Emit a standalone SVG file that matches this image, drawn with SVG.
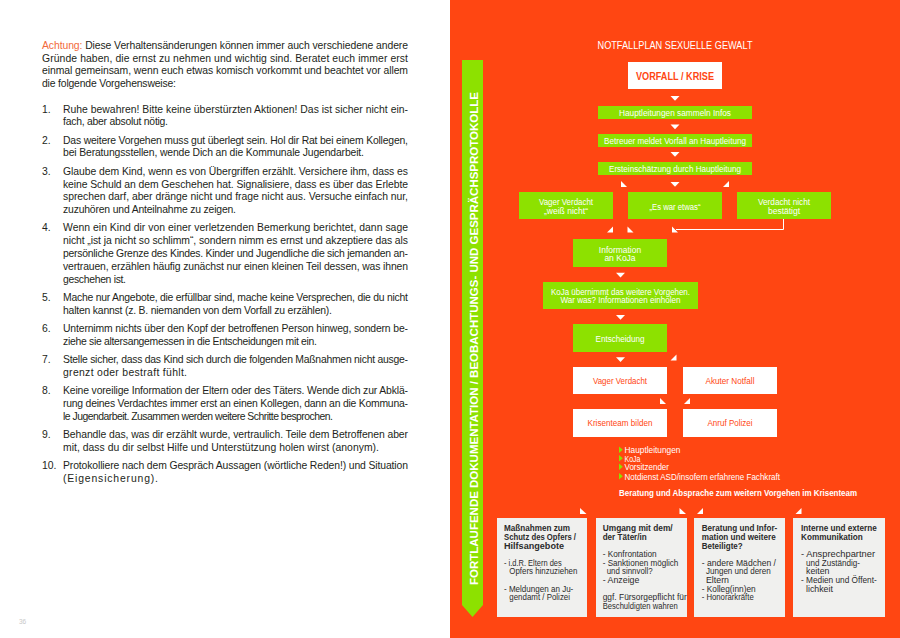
<svg xmlns="http://www.w3.org/2000/svg" width="900" height="638" viewBox="0 0 900 638">
<defs>
<style>
text{font-family:"Liberation Sans",Arial,sans-serif}
.body{font-size:10.4px;fill:#231f20}
.acc{fill:#f26a3c}
.lbl{font-size:8.5px;fill:#fff;text-anchor:middle}
.lblo{font-size:8.5px;fill:#ff4612;text-anchor:middle}
.g{fill:#8de100}
.w{fill:#fff}
.tri{fill:#fff}
.box{fill:#f0f0ee}
.bt{font-size:8.8px;font-weight:bold;fill:#2b2b2b}
.bb{font-size:8.8px;fill:#2b2b2b}
.bl{font-size:8.6px;fill:#fff}
</style>
</defs>
<rect x="0" y="0" width="900" height="638" fill="#fff"/>
<g id="left-text" class="body">
<text x="42" y="49" textLength="366"><tspan class="acc">Achtung:</tspan> Diese Verhaltensänderungen können immer auch verschiedene andere</text>
<text x="42" y="61.6" textLength="366">Gründe haben, die ernst zu nehmen und wichtig sind. Beratet euch immer erst</text>
<text x="42" y="74.2" textLength="366">einmal gemeinsam, wenn euch etwas komisch vorkommt und beachtet vor allem</text>
<text x="42" y="86.8" textLength="134">die folgende Vorgehensweise:</text>
<text x="42" y="112.5">1.</text>
<text x="63" y="112.5" textLength="345">Ruhe bewahren! Bitte keine überstürzten Aktionen! Das ist sicher nicht ein-</text>
<text x="63" y="125.3" textLength="105">fach, aber absolut nötig.</text>
<text x="42" y="143.6">2.</text>
<text x="63" y="143.6" textLength="345">Das weitere Vorgehen muss gut überlegt sein. Hol dir Rat bei einem Kollegen,</text>
<text x="63" y="156.4" textLength="301">bei Beratungsstellen, wende Dich an die Kommunale Jugendarbeit.</text>
<text x="42" y="174.7">3.</text>
<text x="63" y="174.7" textLength="345">Glaube dem Kind, wenn es von Übergriffen erzählt. Versichere ihm, dass es</text>
<text x="63" y="187.5" textLength="345">keine Schuld an dem Geschehen hat. Signalisiere, dass es über das Erlebte</text>
<text x="63" y="200.3" textLength="345">sprechen darf, aber dränge nicht und frage nicht aus. Versuche einfach nur,</text>
<text x="63" y="213.1" textLength="173">zuzuhören und Anteilnahme zu zeigen.</text>
<text x="42" y="231.4">4.</text>
<text x="63" y="231.4" textLength="345">Wenn ein Kind dir von einer verletzenden Bemerkung berichtet, dann sage</text>
<text x="63" y="244.2" textLength="345">nicht „ist ja nicht so schlimm“, sondern nimm es ernst und akzeptiere das als</text>
<text x="63" y="257" textLength="345">persönliche Grenze des Kindes. Kinder und Jugendliche die sich jemanden an-</text>
<text x="63" y="269.8" textLength="345">vertrauen, erzählen häufig zunächst nur einen kleinen Teil dessen, was ihnen</text>
<text x="63" y="282.6" textLength="63">geschehen ist.</text>
<text x="42" y="300.9">5.</text>
<text x="63" y="300.9" textLength="345">Mache nur Angebote, die erfüllbar sind, mache keine Versprechen, die du nicht</text>
<text x="63" y="313.7" textLength="269">halten kannst (z. B.  niemanden von dem Vorfall zu erzählen).</text>
<text x="42" y="332">6.</text>
<text x="63" y="332" textLength="345">Unternimm nichts über den Kopf der betroffenen Person hinweg, sondern be-</text>
<text x="63" y="344.8" textLength="254">ziehe sie altersangemessen in die Entscheidungen mit ein.</text>
<text x="42" y="363.1">7.</text>
<text x="63" y="363.1" textLength="345">Stelle sicher, dass das Kind sich durch die folgenden Maßnahmen nicht ausge-</text>
<text x="63" y="375.9" textLength="124">grenzt oder bestraft fühlt.</text>
<text x="42" y="394.2">8.</text>
<text x="63" y="394.2" textLength="345">Keine voreilige Information der Eltern oder des Täters. Wende dich zur Abklä-</text>
<text x="63" y="407" textLength="345">rung deines Verdachtes immer erst an einen Kollegen, dann an die Kommuna-</text>
<text x="63" y="419.8" textLength="270">le Jugendarbeit. Zusammen werden weitere Schritte besprochen.</text>
<text x="42" y="438.1">9.</text>
<text x="63" y="438.1" textLength="345">Behandle das, was dir erzählt wurde, vertraulich. Teile dem Betroffenen aber</text>
<text x="63" y="450.9" textLength="316">mit, dass du dir selbst Hilfe und Unterstützung holen wirst (anonym).</text>
<text x="42" y="469.2">10.</text>
<text x="63" y="469.2" textLength="345">Protokolliere nach dem Gespräch Aussagen (wörtliche Reden!) und Situation</text>
<text x="63" y="482" textLength="95">(Eigensicherung).</text>
</g>
<text x="19" y="624" style="font-size:6.5px;fill:#c8c8c8">36</text>

<rect x="450" y="0" width="450" height="638" fill="#ff4612"/>
<text x="675" y="48.5" text-anchor="middle" textLength="155" lengthAdjust="spacingAndGlyphs" style="font-size:10.2px;fill:#fff">NOTFALLPLAN SEXUELLE GEWALT</text>

<g id="side-band">
<polygon class="g" points="462,60 483,60 483,605 472.5,617 462,605"/>
<text transform="translate(477.8,338.5) rotate(-90)" text-anchor="middle" textLength="493" lengthAdjust="spacingAndGlyphs" style="font-size:11.5px;font-weight:bold;fill:#fff">FORTLAUFENDE DOKUMENTATION / BEOBACHTUNGS- UND GESPRÄCHSPROTOKOLLE</text>
</g>

<g id="connectors">
<polygon class="tri" points="670.5,96 679.5,96 675,100.7"/>
<polygon class="tri" points="670.5,124.5 679.5,124.5 675,129.2"/>
<polygon class="tri" points="670.5,152 679.5,152 675,156.7"/>
<polygon class="tri" points="670.5,182 679.5,182 675,186.7"/>
<polygon class="tri" points="621,181 621,187 627,187"/>
<polygon class="tri" points="729,181 729,187 723,187"/>
<polygon class="tri" points="613,226.5 613,232.5 607,232.5"/>
<polygon class="tri" points="627.5,226.5 627.5,232.5 633.5,232.5"/>
<polygon class="tri" points="672,226.5 672,232.5 678,232.5"/>
<polyline points="676,229.5 783.5,229.5 783.5,219" fill="none" stroke="#fff" stroke-width="1"/>
<polygon class="tri" points="616,272.7 625,272.7 620.5,277.4"/>
<polygon class="tri" points="616,315 625,315 620.5,319.7"/>
<polygon class="tri" points="616,357.3 625,357.3 620.5,362"/>
<polygon class="tri" points="676.5,354.5 676.5,360.5 670.5,360.5"/>
<polygon class="tri" points="660,398 660,404 666,404"/>
<polygon class="tri" points="690,398 690,404 684,404"/>
<polygon class="tri" points="580,508 580,514 586.5,514"/>
<polygon class="tri" points="679.5,508 679.5,514 686,514"/>
<polygon class="tri" points="703,508 703,514 697,514"/>
<polygon class="tri" points="801.5,508 801.5,514 795.5,514"/>
</g>

<g id="n-vorfall">
<rect class="w" x="628" y="62" width="94" height="27"/>
<text x="675" y="79.5" text-anchor="middle" textLength="78" lengthAdjust="spacingAndGlyphs" style="font-size:11px;font-weight:bold;fill:#ff4612">VORFALL / KRISE</text>
</g>
<g id="n-sammeln">
<rect class="g" x="598" y="106" width="154" height="13"/>
<text class="lbl" x="675" y="115.5" textLength="112" lengthAdjust="spacingAndGlyphs">Hauptleitungen sammeln Infos</text>
</g>
<g id="n-meldet">
<rect class="g" x="598" y="134" width="154" height="13"/>
<text class="lbl" x="675" y="143.5" textLength="142" lengthAdjust="spacingAndGlyphs">Betreuer meldet Vorfall an Hauptleitung</text>
</g>
<g id="n-ersteinschaetzung">
<rect class="g" x="598" y="162" width="154" height="13"/>
<text class="lbl" x="675" y="171.5" textLength="132" lengthAdjust="spacingAndGlyphs">Ersteinschätzung durch Hauptleitung</text>
</g>
<g id="n-vager1">
<rect class="g" x="519" y="192" width="94" height="27"/>
<text class="lbl" x="566" y="205.3" textLength="54" lengthAdjust="spacingAndGlyphs">Vager Verdacht</text>
<text class="lbl" x="566" y="213.6" textLength="44" lengthAdjust="spacingAndGlyphs">„weiß nicht“</text>
</g>
<g id="n-eswaretwas">
<rect class="g" x="628" y="192" width="94" height="27"/>
<text class="lbl" x="675" y="209.5" textLength="51" lengthAdjust="spacingAndGlyphs">„Es war etwas“</text>
</g>
<g id="n-nichtbestaetigt">
<rect class="g" x="737" y="192" width="94" height="27"/>
<text class="lbl" x="784" y="205.3" textLength="52" lengthAdjust="spacingAndGlyphs">Verdacht nicht</text>
<text class="lbl" x="784" y="213.6">bestätigt</text>
</g>
<g id="n-information">
<rect class="g" x="573" y="239" width="94" height="28"/>
<text class="lbl" x="620" y="252.8" textLength="42.3" lengthAdjust="spacingAndGlyphs">Information</text>
<text class="lbl" x="620" y="261.1">an KoJa</text>
</g>
<g id="n-koja">
<rect class="g" x="543" y="282" width="155" height="27"/>
<text class="lbl" x="620.5" y="294.5" textLength="139" lengthAdjust="spacingAndGlyphs">KoJa übernimmt das weitere Vorgehen.</text>
<text class="lbl" x="620.5" y="303.3" textLength="120" lengthAdjust="spacingAndGlyphs">War was? Informationen einholen</text>
</g>
<g id="n-entscheidung">
<rect class="g" x="573" y="324" width="94" height="28"/>
<text class="lbl" x="620" y="341.8" textLength="49" lengthAdjust="spacingAndGlyphs">Entscheidung</text>
</g>
<g id="n-vager2">
<rect class="w" x="573" y="367" width="94" height="27"/>
<text class="lblo" x="620" y="384" textLength="54" lengthAdjust="spacingAndGlyphs">Vager Verdacht</text>
</g>
<g id="n-akut">
<rect class="w" x="683" y="367" width="94" height="27"/>
<text class="lblo" x="730" y="384" textLength="49" lengthAdjust="spacingAndGlyphs">Akuter Notfall</text>
</g>
<g id="n-krisenteam">
<rect class="w" x="573" y="409" width="94" height="28"/>
<text class="lblo" x="620" y="426.3" textLength="65" lengthAdjust="spacingAndGlyphs">Krisenteam bilden</text>
</g>
<g id="n-polizei">
<rect class="w" x="683" y="409" width="94" height="28"/>
<text class="lblo" x="730" y="426.3" textLength="45" lengthAdjust="spacingAndGlyphs">Anruf Polizei</text>
</g>
<g id="n-members">
<polygon class="g" points="619,446.5 619,453 622.8,449.8"/>
<polygon class="g" points="619,455 619,461.5 622.8,458.3"/>
<polygon class="g" points="619,463.5 619,470 622.8,466.8"/>
<polygon class="g" points="619,473 619,479.5 622.8,476.3"/>
<text class="bl" x="624.5" y="453" textLength="56" lengthAdjust="spacingAndGlyphs">Hauptleitungen</text>
<text class="bl" x="624.5" y="461.5" textLength="16" lengthAdjust="spacingAndGlyphs">KoJa</text>
<text class="bl" x="624.5" y="470" textLength="44.5" lengthAdjust="spacingAndGlyphs">Vorsitzender</text>
<text class="bl" x="624.5" y="479.5" textLength="155.5" lengthAdjust="spacingAndGlyphs">Notdienst ASD/insofern erfahrene Fachkraft</text>
<text class="bl" x="619" y="496" textLength="238" lengthAdjust="spacingAndGlyphs" style="font-weight:bold">Beratung und Absprache zum weitern Vorgehen im Krisenteam</text>
</g>
<g id="n-schutz">
<rect class="box" x="497" y="518" width="90" height="99"/>
<text class="bt" x="504" y="531.3" textLength="66" lengthAdjust="spacingAndGlyphs">Maßnahmen zum</text>
<text class="bt" x="504" y="540.3" textLength="72" lengthAdjust="spacingAndGlyphs">Schutz des Opfers /</text>
<text class="bt" x="504" y="549" textLength="60" lengthAdjust="spacingAndGlyphs">Hilfsangebote</text>
<text class="bb" x="504" y="565.7" textLength="57.7" lengthAdjust="spacingAndGlyphs">- i.d.R. Eltern des</text>
<text class="bb" x="509.3" y="574" textLength="68" lengthAdjust="spacingAndGlyphs">Opfers hinzuziehen</text>
<text class="bb" x="504" y="592" textLength="69.3" lengthAdjust="spacingAndGlyphs">- Meldungen an Ju-</text>
<text class="bb" x="509.3" y="600.3" textLength="60.7" lengthAdjust="spacingAndGlyphs">gendamt / Polizei</text>
</g>
<g id="n-taeter">
<rect class="box" x="596" y="518" width="91" height="99"/>
<text class="bt" x="602.7" y="531.3" textLength="70" lengthAdjust="spacingAndGlyphs">Umgang mit dem/</text>
<text class="bt" x="602.7" y="540.3" textLength="44" lengthAdjust="spacingAndGlyphs">der Täter/in</text>
<text class="bb" x="602.7" y="557" textLength="54" lengthAdjust="spacingAndGlyphs">- Konfrontation</text>
<text class="bb" x="602.7" y="565.7" textLength="75.6" lengthAdjust="spacingAndGlyphs">- Sanktionen möglich</text>
<text class="bb" x="606.7" y="574" textLength="46" lengthAdjust="spacingAndGlyphs">und sinnvoll?</text>
<text class="bb" x="602.7" y="583">- Anzeige</text>
<text class="bb" x="602.7" y="600.3" textLength="84" lengthAdjust="spacingAndGlyphs">ggf. Fürsorgepflicht für</text>
<text class="bb" x="602.7" y="609" textLength="75" lengthAdjust="spacingAndGlyphs">Beschuldigten wahren</text>
</g>
<g id="n-beteiligte">
<rect class="box" x="694" y="518" width="91" height="99"/>
<text class="bt" x="701.7" y="531.3" textLength="75.6" lengthAdjust="spacingAndGlyphs">Beratung und Infor-</text>
<text class="bt" x="701.7" y="540.3" textLength="74" lengthAdjust="spacingAndGlyphs">mation und weitere</text>
<text class="bt" x="701.7" y="549" textLength="41" lengthAdjust="spacingAndGlyphs">Beteiligte?</text>
<text class="bb" x="701.7" y="565.7" textLength="74.3" lengthAdjust="spacingAndGlyphs">- andere Mädchen /</text>
<text class="bb" x="706" y="574.3" textLength="64.7" lengthAdjust="spacingAndGlyphs">Jungen und deren</text>
<text class="bb" x="706" y="583">Eltern</text>
<text class="bb" x="701.7" y="592" textLength="54" lengthAdjust="spacingAndGlyphs">- Kolleg(inn)en</text>
<text class="bb" x="701.7" y="600.3" textLength="52" lengthAdjust="spacingAndGlyphs">- Honorarkräfte</text>
</g>
<g id="n-kommunikation">
<rect class="box" x="793" y="518" width="92" height="99"/>
<text class="bt" x="801" y="531.3" textLength="75.7" lengthAdjust="spacingAndGlyphs">Interne und externe</text>
<text class="bt" x="801" y="540.3" textLength="61.7" lengthAdjust="spacingAndGlyphs">Kommunikation</text>
<text class="bb" x="801" y="557.3" textLength="74" lengthAdjust="spacingAndGlyphs">- Ansprechpartner</text>
<text class="bb" x="806" y="565.7" textLength="54" lengthAdjust="spacingAndGlyphs">und Zuständig-</text>
<text class="bb" x="806" y="574.3">keiten</text>
<text class="bb" x="801" y="583" textLength="75.7" lengthAdjust="spacingAndGlyphs">- Medien und Öffent-</text>
<text class="bb" x="806" y="592">lichkeit</text>
</g>
</svg>
